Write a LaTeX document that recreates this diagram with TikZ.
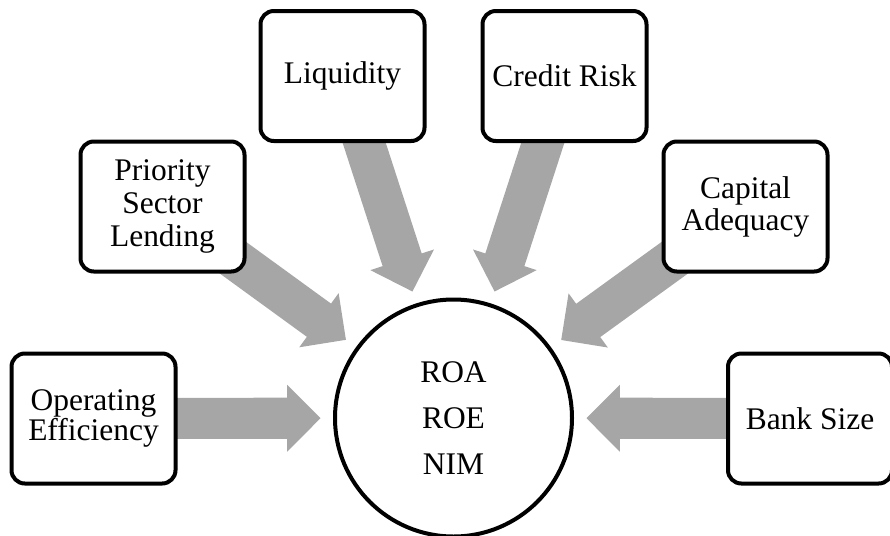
\documentclass[tikz,border=0pt]{standalone}
\usepackage{fontspec}
\setmainfont{Liberation Serif}
\usetikzlibrary{calc,backgrounds}
\definecolor{arrowgray}{HTML}{A6A6A6}
\newcommand{\grayarrow}[1]{%
  \path ($(c.center)!99.75pt!(#1.center)$) coordinate (T)
        ($(T)!25pt!(#1.center)$) coordinate (B);
  \fill[arrowgray] ($(#1.center)!15.4pt!90:(T)$) -- ($(B)!15.4pt!90:(T)$)
    -- ($(B)!25.1pt!90:(T)$) -- (T) -- ($(B)!25.1pt!-90:(T)$)
    -- ($(B)!15.4pt!-90:(T)$) -- ($(#1.center)!15.4pt!-90:(T)$) -- cycle;
}
\begin{document}
\begin{tikzpicture}[x=0.75pt,y=-0.75pt,
  box/.style={draw, line width=3pt, rounded corners=10pt, fill=white,
    minimum width=123pt, minimum height=97.5pt, align=center, inner sep=0pt},
  hub/.style={draw, circle, line width=3pt, fill=white, minimum size=177.75pt,
    align=center, inner sep=0pt, font=\fontsize{23.6}{34.5}\selectfont}]
\useasboundingbox (0,0) rectangle (890,536);
\node[hub] (c) at (453.5,418) {ROA\\ROE\\NIM};
\node[box, font=\fontsize{23.6}{21}\selectfont] (oe) at (93.5,418.5) {Operating\\Efficiency};
\node[box, font=\fontsize{23.6}{25}\selectfont] (ps) at (162.5,206.5) {Priority\\Sector\\Lending};
\node[box, font=\fontsize{23.6}{25}\selectfont] (lq) at (342.5,76) {Liquidity};
\node[box, font=\fontsize{23.6}{25}\selectfont] (cr) at (564.5,76) {Credit Risk};
\node[box, font=\fontsize{23.6}{24}\selectfont] (ca) at (745.5,206.5) {Capital\\Adequacy};
\node[box, font=\fontsize{23.6}{25}\selectfont] (bs) at (810,418.5) {Bank Size};
\begin{scope}[on background layer]
  \grayarrow{oe}
  \grayarrow{ps}
  \grayarrow{lq}
  \grayarrow{cr}
  \grayarrow{ca}
  \grayarrow{bs}
\end{scope}
\end{tikzpicture}
\end{document}
